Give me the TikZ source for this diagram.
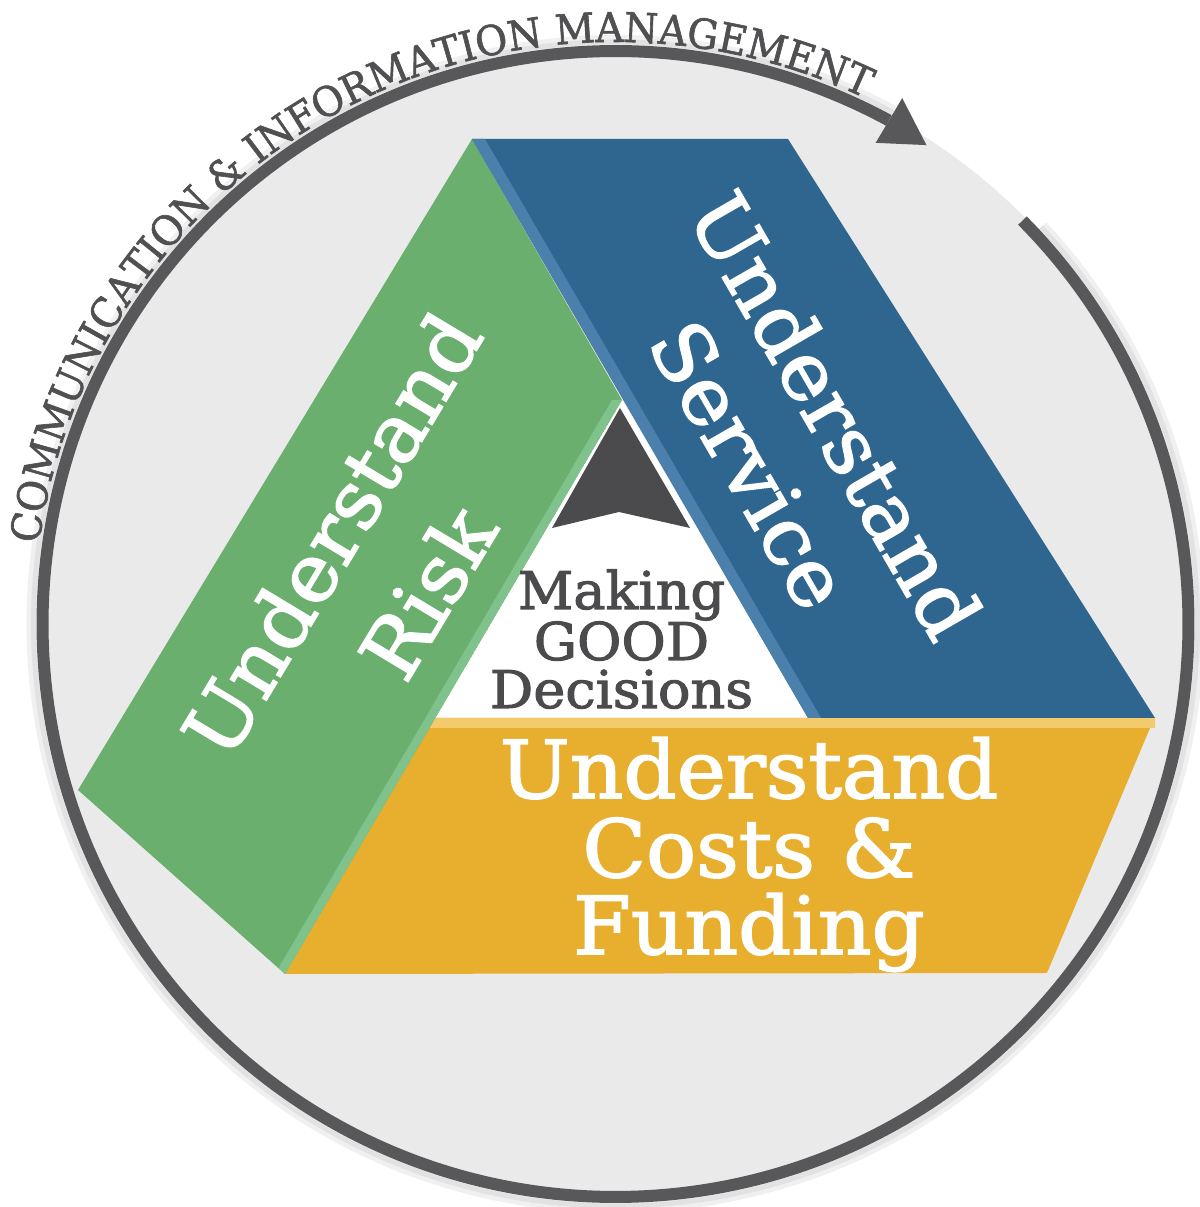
\documentclass[tikz,border=0pt]{standalone}
\usepackage{fontspec}
\newfontfamily\slab{DejaVu Serif}[FakeStretch=1.04, FakeBold=2]
\newfontfamily\slabring{DejaVu Serif}[FakeStretch=0.95, FakeBold=1.5]
\usetikzlibrary{decorations.text}
\definecolor{ringfill}{HTML}{EAEAEA}
\definecolor{ringline}{HTML}{58585A}
\definecolor{ringtext}{HTML}{505052}
\definecolor{bandgreen}{HTML}{6AAF6E}
\definecolor{bandgreenlight}{HTML}{80C28B}
\definecolor{bandblue}{HTML}{2F6690}
\definecolor{bandbluelight}{HTML}{4A80AB}
\definecolor{bandorange}{HTML}{E8AE2E}
\definecolor{bandorangelight}{HTML}{F3CB6C}
\definecolor{centerdark}{HTML}{4B4B4D}
\newcommand\bandfont{\slab\fontsize{80pt}{80pt}\selectfont}
\newcommand\centerfont{\slab\fontsize{52pt}{52pt}\selectfont}
\newcommand\circfmt{\slabring\fontsize{41pt}{41pt}\selectfont}
\tikzset{
  bandtext/.style={text=white, font=\bandfont, inner sep=0pt, anchor=base},
  centertext/.style={text=centerdark, font=\centerfont, inner sep=0pt, anchor=base},
}
\begin{document}
\begin{tikzpicture}[x=1pt,y=1pt]
\useasboundingbox (0,0) rectangle (1199,1207);
\coordinate (C) at (615.5,583);
% soft shadow outside the ring
\draw[black, opacity=0.06, line width=10pt, shift={(C)}] (43:584) arc[start angle=43, end angle=-298.5, radius=584];
\draw[black, opacity=0.06, line width=5pt, shift={(C)}] (43:582) arc[start angle=43, end angle=-298.5, radius=582];
% disc
\fill[ringfill] (C) circle[radius=577];
% ring line with gap and arrowhead
\draw[ringline, line width=12pt, shift={(C)}] (44.75:573) arc[start angle=44.75, end angle=-298.5, radius=573];
\fill[ringline, shift={(C)}] (61.4:599) -- (57:571) -- (61.6:547) -- cycle;
% circular title
\path[decorate, decoration={text along path, text align=center, text color=ringtext,
  text={|\circfmt|COMMUNICATION {\&} INFORMATION MANAGEMENT}}, shift={(C)}]
  (178.35:582) arc[start angle=178.35, end angle=58.35, radius=582];
% central white triangle
\fill[white] (622,807) -- (808,489) -- (435,489) -- cycle;
% orange band
\fill[bandorange] (435,489) -- (1155,489) -- (1150,479) -- (1047,234) -- (285,233) -- cycle;
\fill[bandorangelight] (435,489) -- (1155,489) -- (1155,479) -- (429,479) -- cycle;
% green band
\fill[bandgreen] (472,1068) -- (78,417) -- (285,233) -- (622,807) -- cycle;
\begin{scope}
  \clip (472,1068) -- (78,417) -- (285,233) -- (622,807) -- cycle;
  \fill[bandgreenlight] (285,233) -- (622,807) -- (612,807) -- (275,233) -- cycle;
\end{scope}
% blue band
\fill[bandblue] (472,1068) -- (788,1068) -- (1155,489) -- (808,489) -- cycle;
\begin{scope}
  \clip (472,1068) -- (788,1068) -- (1155,489) -- (808,489) -- cycle;
  \fill[bandbluelight] (472,1068) -- (485,1068) -- (821,489) -- (808,489) -- cycle;
\end{scope}
% centre chevron
\fill[centerdark] (620,799) -- (690,679) -- (619,695) -- (552,679) -- cycle;
% texts
\node[bandtext] (o1) at (749,409) {Understand};
\node[bandtext] (o2) at (749,330) {Costs \&};
\node[bandtext] (o3) at (749,253) {Funding};
\node[bandtext, rotate=59] (g1) at (356.8,657.4) {Understand};
\node[bandtext, rotate=59] (g2) at (452.6,599.6) {Risk};
\node[bandtext, rotate=-60] (b1) at (810.2,777.2) {Understand};
\node[bandtext, rotate=-60] (b2) at (724.8,727.8) {Service};
\node[centertext] (m1) at (621.5,598) {Making};
\node[centertext] (m2) at (621.5,547) {GOOD};
\node[centertext] (m3) at (621.5,499) {Decisions};
\end{tikzpicture}
\end{document}
